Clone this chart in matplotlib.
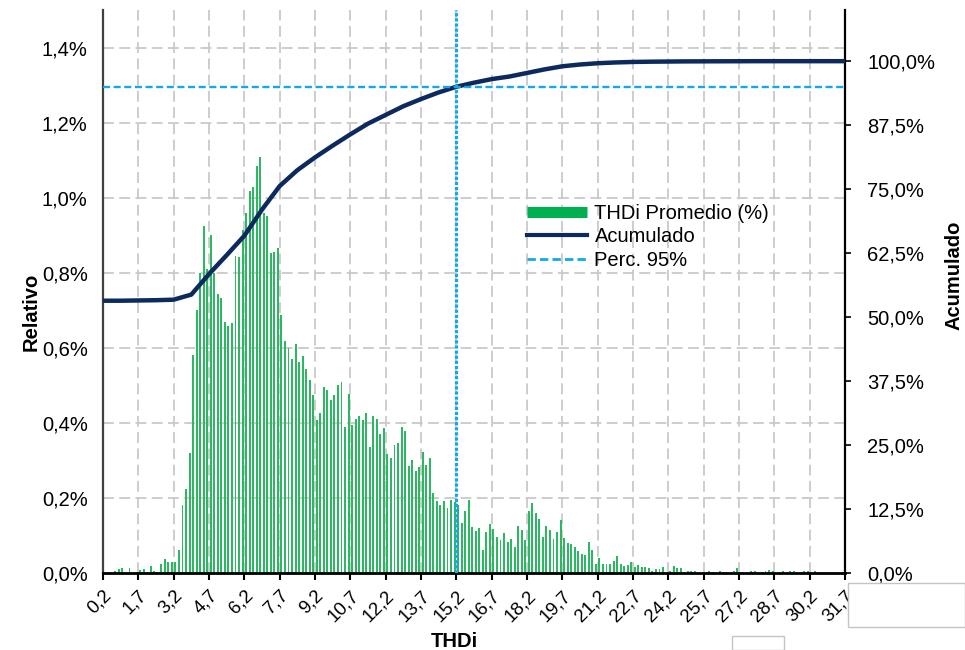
import numpy as np
import matplotlib
matplotlib.use("Agg")
import matplotlib.pyplot as plt
from matplotlib.lines import Line2D
from matplotlib.patches import Rectangle

plt.rcParams['font.family'] = ['Liberation Sans', 'DejaVu Sans']

# ---------------- data ----------------
# THDi histogram: 210 bins of width 0.15 starting at 0.2 (values in %)
relativo = [
    0, 0, 0, 0.006, 0.010, 0.012, 0, 0.012, 0, 0,
    0.008, 0.010, 0, 0.019, 0.006, 0, 0.024, 0.036, 0.030, 0.028,
    0.028, 0.061, 0.180, 0.225, 0.320, 0.580, 0.700, 0.800, 0.925, 0.810,
    0.900, 0.800, 0.744, 0.733, 0.670, 0.657, 0.667, 0.845, 0.843, 0.915,
    0.960, 1.017, 1.028, 1.085, 1.108, 0.960, 0.950, 0.853, 0.855, 0.865,
    0.688, 0.617, 0.599, 0.570, 0.611, 0.561, 0.579, 0.543, 0.515, 0.475,
    0.408, 0.426, 0.495, 0.488, 0.460, 0.475, 0.500, 0.510, 0.390, 0.477,
    0.395, 0.410, 0.417, 0.408, 0.427, 0.337, 0.419, 0.410, 0.371, 0.386,
    0.317, 0.306, 0.341, 0.347, 0.388, 0.377, 0.285, 0.301, 0.273, 0.283,
    0.323, 0.288, 0.306, 0.213, 0.192, 0.180, 0.192, 0.172, 0.195, 0.190,
    0.181, 0.134, 0.164, 0.195, 0.122, 0.112, 0.119, 0.061, 0.110, 0.130,
    0.117, 0.097, 0.088, 0.106, 0.082, 0.090, 0.068, 0.125, 0.115, 0.088,
    0.164, 0.186, 0.159, 0.143, 0.097, 0.124, 0.114, 0.090, 0.110, 0.141,
    0.092, 0.079, 0.076, 0.068, 0.059, 0.050, 0.048, 0.082, 0.060, 0.024,
    0.039, 0.024, 0.024, 0.024, 0.033, 0.044, 0.024, 0.019, 0.022, 0.030,
    0.015, 0.020, 0.017, 0.017, 0.012, 0.006, 0.010, 0.010, 0.015, 0,
    0.006, 0.019, 0.012, 0.012, 0, 0.005, 0.005, 0.005, 0, 0,
    0, 0.005, 0, 0, 0.005, 0, 0, 0, 0.005, 0.012,
    0, 0, 0, 0.005, 0.005, 0, 0, 0.005, 0.008, 0.005,
    0, 0, 0.005, 0, 0.005, 0.005, 0, 0, 0.005, 0.005,
    0, 0.005, 0, 0, 0, 0, 0, 0, 0, 0,
]
bin_start = 0.2
bin_width = 0.15

# Cumulative curve, read every 5 bins (THDi 0.2, 0.95, 1.7, ... 31.7), in %
acumulado = [
    53.2, 53.2, 53.25, 53.3, 53.4, 54.4, 58.4, 62.1, 65.9, 71.0,
    75.6, 78.7, 81.2, 83.5, 85.7, 87.8, 89.5, 91.2, 92.6, 93.9,
    95.0, 95.8, 96.5, 97.0, 97.7, 98.4, 99.0, 99.35, 99.6, 99.75,
    99.85, 99.9, 99.93, 99.96, 99.97, 99.98, 99.99, 100.0, 100.0, 100.0,
    100.0, 100.0, 100.0,
]
perc95_x = 15.2
perc95_y = 95.0

x_tick_labels = ["0,2", "1,7", "3,2", "4,7", "6,2", "7,7", "9,2", "10,7", "12,2",
                 "13,7", "15,2", "16,7", "18,2", "19,7", "21,2", "22,7", "24,2",
                 "25,7", "27,2", "28,7", "30,2", "31,7"]
left_ticks = [0.0, 0.2, 0.4, 0.6, 0.8, 1.0, 1.2, 1.4]
left_labels = ["0,0%", "0,2%", "0,4%", "0,6%", "0,8%", "1,0%", "1,2%", "1,4%"]
right_ticks = [0, 12.5, 25, 37.5, 50, 62.5, 75, 87.5, 100]
right_labels = ["0,0%", "12,5%", "25,0%", "37,5%", "50,0%", "62,5%", "75,0%", "87,5%", "100,0%"]

# ---------------- plot ----------------
GREEN = '#2cb862'
NAVY = '#0d2a5e'
LBLUE = '#12a8ec'
GRID = '#c9c9c9'
FS = 14.5

n = len(relativo)
edges = bin_start + bin_width * np.arange(n + 1)
centers = edges[:-1] + bin_width / 2
cum_x = edges[::5]
tick_pos = edges[::10]

fig = plt.figure(figsize=(9.65, 6.5), dpi=100)
ax = fig.add_axes([103 / 965, 1 - 573 / 650, 742 / 965, 563 / 650])

ax.bar(centers, relativo, width=bin_width * 0.55, color=GREEN, linewidth=0, zorder=2)
ax.set_xlim(edges[0], edges[-1])
ax.set_ylim(0, 1.5)
ax.set_yticks(left_ticks)
ax.set_yticklabels(left_labels, fontsize=FS)
ax.set_xticks(tick_pos)
ax.set_xticklabels(x_tick_labels, fontsize=13.5, rotation=45, ha='right', va='top',
                   rotation_mode='anchor')
ax.tick_params(axis='y', length=0, pad=11)
ax.tick_params(axis='x', length=5, width=1.5, color='black', pad=5, direction='out')
ax.grid(True, color=GRID, linestyle=(0, (6, 3)), linewidth=1.3, zorder=0)
ax.set_axisbelow(True)
ax.spines['top'].set_visible(False)
ax.spines['left'].set_color('#404040')
ax.spines['left'].set_linewidth(1.6)
ax.spines['bottom'].set_color('black')
ax.spines['bottom'].set_linewidth(2)
ax.spines['right'].set_visible(False)

ax.set_ylabel('Relativo', fontsize=FS, fontweight='bold')
ax.yaxis.set_label_coords(-0.084, 0.464)
ax.set_xlabel('THDi', fontsize=FS, fontweight='bold')
ax.xaxis.set_label_coords(0.474, -0.104)

ax2 = ax.twinx()
ax2.set_ylim(0, 110)
ax2.plot(cum_x, acumulado, color=NAVY, linewidth=3.2, solid_capstyle='round', zorder=3)
ax2.axhline(perc95_y, color=LBLUE, linewidth=1.7, linestyle=(0, (3, 1.5)), zorder=4)
ax2.axvline(perc95_x, color=LBLUE, linewidth=2.3, linestyle=(0, (1, 0.6)), zorder=4)
ax2.set_yticks(right_ticks)
ax2.set_yticklabels(right_labels, fontsize=FS)
ax2.tick_params(axis='y', length=4, width=1.2, pad=12, direction='out')
ax2.spines['top'].set_visible(False)
ax2.spines['left'].set_visible(False)
ax2.spines['bottom'].set_visible(False)
ax2.spines['right'].set_color('black')
ax2.spines['right'].set_linewidth(1.6)
ax2.set_ylabel('Acumulado', fontsize=FS, fontweight='bold')
ax2.yaxis.set_label_coords(1.134, 0.529)
ax2.set_xlim(edges[0], edges[-1])

handles = [
    Line2D([0], [0], color='#00b050', linewidth=8, solid_capstyle='butt'),
    Line2D([0], [0], color=NAVY, linewidth=3),
    Line2D([0], [0], color=LBLUE, linewidth=2, linestyle=(0, (3, 1.5))),
]
fig.legend(handles, ['THDi Promedio (%)', 'Acumulado', 'Perc. 95%'],
           loc='upper left', bbox_to_anchor=(527 / 965, 1 - 204 / 650),
           frameon=False, fontsize=FS, handlelength=3.0, handletextpad=0.35,
           labelspacing=0.22, borderpad=0, borderaxespad=0)

# stray empty boxes in the original image
fig.add_artist(Rectangle((848 / 965, 1 - 627 / 650), 117 / 965, 44 / 650,
                         transform=fig.transFigure, facecolor='white',
                         edgecolor='#c4c4c4', linewidth=1))
fig.add_artist(Rectangle((732 / 965, 0.0), 52 / 965, 14 / 650,
                         transform=fig.transFigure, facecolor='white',
                         edgecolor='#c4c4c4', linewidth=1))

fig.savefig('out.png', dpi=100)
